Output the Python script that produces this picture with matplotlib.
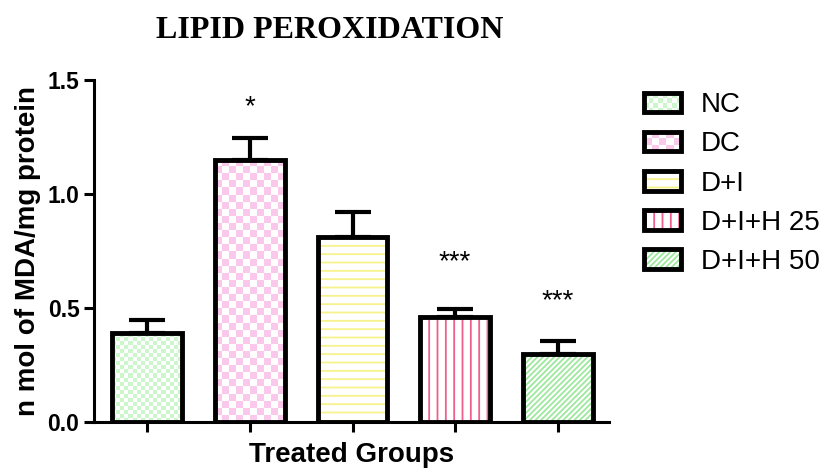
import numpy as np
import matplotlib
matplotlib.use("Agg")
import matplotlib.pyplot as plt
from matplotlib.colors import ListedColormap
from matplotlib.legend_handler import HandlerBase
from matplotlib.patches import Rectangle

groups = ["NC", "DC", "D+I", "D+I+H 25", "D+I+H 50"]
means = [0.39, 1.15, 0.81, 0.46, 0.30]
sem = [0.057, 0.095, 0.11, 0.034, 0.055]
stars = ["", "*", "", "***", "***"]
star_y = [None, 1.38, None, 0.70, 0.53]

# fill style per group: ("checker", colour, square px) or ("hatch", colour, pattern)
fills = [
    ("checker", "#ccf7cc", 4),
    ("checker", "#f9c8ea", 7),
    ("hatch", "#f7f28a", "--"),
    ("hatch", "#f0608c", "||"),
    ("hatch", "#9ee89e", "//////"),
]

plt.rcParams["font.family"] = ["Liberation Sans", "DejaVu Sans"]
plt.rcParams["hatch.linewidth"] = 1.3

fig = plt.figure(figsize=(8.27, 4.69), dpi=100)
ax = fig.add_axes([0.1137, 0.1002, 0.6227, 0.7292])
xlim = (-0.52, 4.5)
ylim = (0, 1.5)
ax.set_xlim(*xlim)
ax.set_ylim(*ylim)

x = np.arange(len(groups))
width = 0.68
edge_lw = 3.5

outlines = ax.bar(x, means, width, fill=False, edgecolor="black",
                  linewidth=edge_lw, zorder=4)

for i, (kind, col, arg) in enumerate(fills):
    rect = outlines[i]
    if kind == "hatch":
        ax.bar(x[i], means[i], width, facecolor="white", edgecolor=col,
               linewidth=0, hatch=arg, zorder=2)
    else:
        x0, x1 = x[i] - width / 2, x[i] + width / 2
        p0 = ax.transData.transform((x0, 0))
        p1 = ax.transData.transform((x1, means[i]))
        ncol = max(1, int(round((p1[0] - p0[0]) / arg)))
        nrow = max(1, int(round((p1[1] - p0[1]) / arg)))
        board = np.indices((nrow, ncol)).sum(axis=0) % 2
        im = ax.imshow(board, extent=(x0, x1, 0, means[i]), origin="lower",
                       cmap=ListedColormap(["white", col]), aspect="auto",
                       interpolation="nearest", zorder=2)
        im.set_clip_path(rect)

ax.errorbar(x, means, yerr=[np.zeros(len(sem)), sem], fmt="none",
            ecolor="black", elinewidth=3.0, capsize=13, capthick=3.0, zorder=3)

for xi, s, sy in zip(x, stars, star_y):
    if s:
        ax.text(xi, sy, s, ha="center", va="center", fontsize=20)

ax.set_xlim(*xlim)
ax.set_ylim(*ylim)
ax.set_yticks([0.0, 0.5, 1.0, 1.5])
ax.set_yticklabels(["0.0", "0.5", "1.0", "1.5"], fontsize=16.5, fontweight="bold")
ax.set_xticks(x)
ax.set_xticklabels([])
ax.tick_params(axis="both", direction="out", length=7, width=2.2)
for side in ["top", "right"]:
    ax.spines[side].set_visible(False)
for side in ["left", "bottom"]:
    ax.spines[side].set_linewidth(2.2)

ax.set_ylabel("n mol of MDA/mg protein", fontsize=20, fontweight="bold", labelpad=5)
ax.set_xlabel("Treated Groups", fontsize=20, fontweight="bold", labelpad=4)
fig.text(0.399, 0.935, "LIPID PEROXIDATION", ha="center", va="center",
         fontsize=23, fontweight="bold", family="Liberation Serif")


class SwatchHandler(HandlerBase):
    def __init__(self, fill):
        super().__init__()
        self.fill = fill

    def create_artists(self, legend, orig_handle, xdescent, ydescent,
                       width, height, fontsize, trans):
        kind, col, arg = self.fill
        x0, y0 = -xdescent, -ydescent
        arts = []
        if kind == "hatch":
            arts.append(Rectangle((x0, y0), width, height, facecolor="white",
                                  edgecolor=col, linewidth=0, hatch=arg,
                                  transform=trans))
        else:
            sq = arg * 1.1 * 72 / 100
            ncol = max(1, int(round(width / sq)))
            nrow = max(1, int(round(height / sq)))
            w, h = width / ncol, height / nrow
            for r in range(nrow):
                for c in range(ncol):
                    if (r + c) % 2:
                        arts.append(Rectangle((x0 + c * w, y0 + r * h), w, h,
                                              facecolor=col, edgecolor="none",
                                              transform=trans))
        arts.append(Rectangle((x0, y0), width, height, fill=False,
                              edgecolor="black", linewidth=edge_lw,
                              transform=trans))
        return arts


handles = [Rectangle((0, 0), 1, 1) for _ in groups]
hmap = {h: SwatchHandler(f) for h, f in zip(handles, fills)}
fig.legend(handles, groups, handler_map=hmap, loc="upper left",
           bbox_to_anchor=(0.779, 0.803), frameon=False, fontsize=20,
           handlelength=1.33, handleheight=0.7, handletextpad=0.7,
           labelspacing=0.47, borderpad=0, borderaxespad=0)

fig.savefig("out.png", dpi=100)
